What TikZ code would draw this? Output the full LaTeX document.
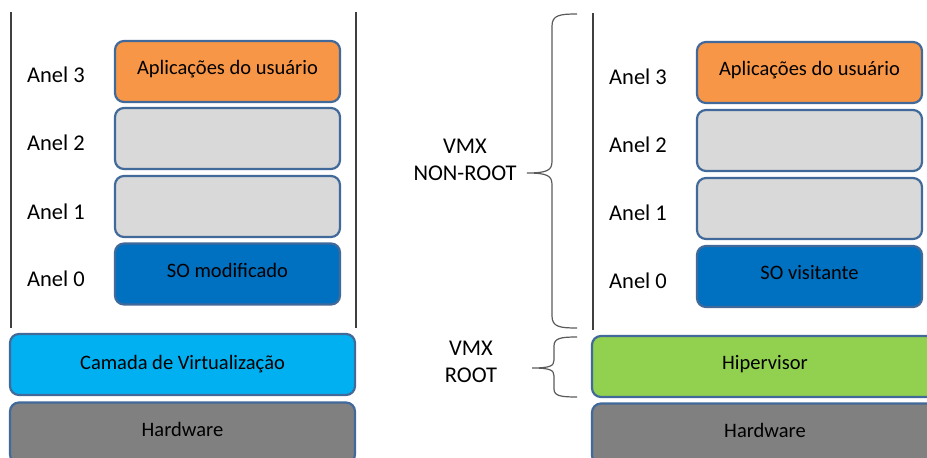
\documentclass[tikz,border=0pt]{standalone}
\usepackage{fontspec}
\setmainfont{Carlito}
\definecolor{bordc}{HTML}{41699A}
\definecolor{orangec}{HTML}{F79646}
\definecolor{grayc}{HTML}{D9D9D9}
\definecolor{darkbluec}{HTML}{0070C0}
\definecolor{lightbluec}{HTML}{00B0F0}
\definecolor{greenc}{HTML}{92D050}
\definecolor{hwc}{HTML}{808080}
\definecolor{linec}{HTML}{404040}
\definecolor{bracec}{HTML}{5A5A5A}
\tikzset{
  layer/.style={draw=bordc, line width=2.2pt, rounded corners=9pt,
    minimum height=61pt, inner sep=0pt, text=black,
    font=\fontsize{20.5}{24}\selectfont, text height=14pt, text depth=8pt},
  ring/.style={layer, minimum width=225pt},
  wide/.style={layer, minimum width=345pt},
  lbl/.style={font=\fontsize{22.5}{26}\selectfont, text=black, inner sep=0pt},
  sep/.style={draw=linec, line width=1.4pt},
  bracestyle/.style={draw=bracec, line width=1.2pt},
}
\begin{document}
\begin{tikzpicture}[x=1pt,y=-1pt]
\useasboundingbox (0,0) rectangle (927,458);
\begin{scope}
\clip (0,0) rectangle (927,458);
% left panel
\coordinate (la1) at (11,12);
\coordinate (la2) at (11,328);
\coordinate (lb1) at (356,12);
\coordinate (lb2) at (356,328);
\draw[sep] (la1) -- (la2);
\draw[sep] (lb1) -- (lb2);
\node[ring, fill=orangec] (l3) at (227.5,71.5) {Aplicações do usuário};
\node[ring, fill=grayc] (l2) at (227.5,138.5) {};
\node[ring, fill=grayc] (l1) at (227.5,206.5) {};
\node[ring, fill=darkbluec] (l0) at (227.5,274) {SO modificado};
\node[wide, fill=lightbluec, text height=16pt, text depth=6pt] (lcam) at (182.5,364.5) {Camada de Virtualização};
\node[wide, fill=hwc] (lhw) at (182.5,433) {Hardware};
\node[lbl] (la3) at (56,75) {Anel 3};
\node[lbl] (la2t) at (56,143) {Anel 2};
\node[lbl] (la1t) at (56,212) {Anel 1};
\node[lbl] (la0t) at (56,279) {Anel 0};
% middle braces
\coordinate (b1top) at (577,14);
\coordinate (b1bot) at (577,328);
\coordinate (b2top) at (577,337);
\coordinate (b2bot) at (577,397);
\draw[bracestyle] (b1top) .. controls (560,14) and (552,15) .. (552,26)
  -- (552,161) .. controls (552,170) and (548,173) .. (527,173)
  .. controls (548,173) and (552,176) .. (552,185)
  -- (552,316) .. controls (552,327) and (560,328) .. (b1bot);
\draw[bracestyle] (b2top) .. controls (561,337) and (554,338) .. (554,346)
  -- (554,360) .. controls (554,366) and (550,368) .. (532,368)
  .. controls (550,368) and (554,370) .. (554,376)
  -- (554,389) .. controls (554,396) and (561,397) .. (b2bot);
\node[lbl, align=center] (nonroot) at (465,160) {VMX\\[1pt]NON-ROOT};
\node[lbl, align=center] (root) at (471,362) {VMX\\[1pt]ROOT};
% right panel
\coordinate (ra1) at (593,13);
\coordinate (ra2) at (593,330);
\draw[sep] (ra1) -- (ra2);
\node[ring, fill=orangec] (r3) at (809.5,72.5) {Aplicações do usuário};
\node[ring, fill=grayc] (r2) at (809.5,140.5) {};
\node[ring, fill=grayc] (r1) at (809.5,208.5) {};
\node[ring, fill=darkbluec] (r0) at (809.5,276.5) {SO visitante};
\node[layer, minimum width=346pt, fill=greenc] (rhip) at (765,366.5) {Hipervisor};
\node[layer, minimum width=346pt, fill=hwc] (rhw) at (765,434) {Hardware};
\node[lbl] (ra3t) at (638,77) {Anel 3};
\node[lbl] (ra2t) at (638,145) {Anel 2};
\node[lbl] (ra1t) at (638,213) {Anel 1};
\node[lbl] (ra0t) at (638,281) {Anel 0};
\end{scope}
\end{tikzpicture}
\end{document}
